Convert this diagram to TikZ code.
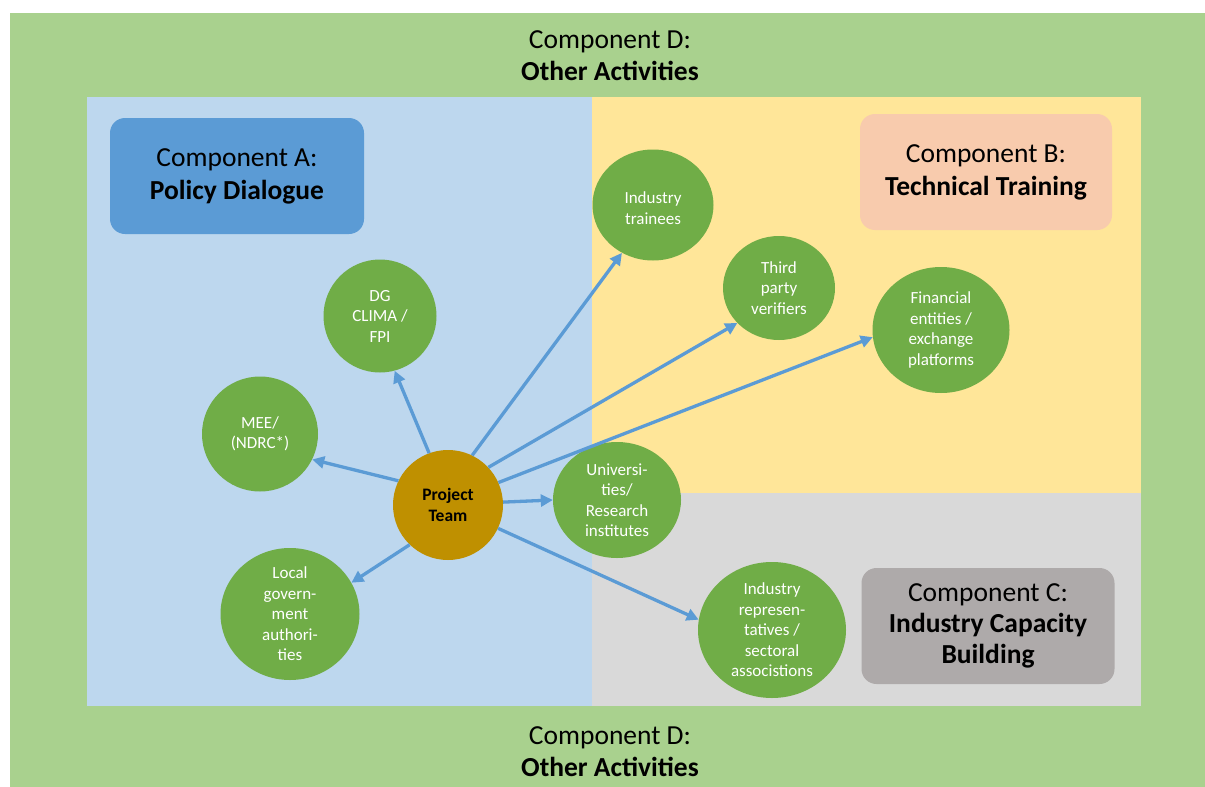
\documentclass[tikz,border=0pt]{standalone}
\usepackage{fontspec}
\setmainfont{Carlito}
\usetikzlibrary{arrows.meta,shapes.geometric}
\definecolor{outergreen}{HTML}{A9D18E}
\definecolor{bgblue}{HTML}{BDD7EE}
\definecolor{bgyellow}{HTML}{FFE699}
\definecolor{bggray}{HTML}{D9D9D9}
\definecolor{boxA}{HTML}{5B9BD5}
\definecolor{boxB}{HTML}{F8CBAD}
\definecolor{boxC}{HTML}{AEAAAA}
\definecolor{circgreen}{HTML}{70AD47}
\definecolor{teamgold}{HTML}{BF9000}
\definecolor{arrowblue}{HTML}{5B9BD5}
\tikzset{
  compbox/.style={rounded corners=15pt, inner sep=0pt, align=center, text=black,
    font=\fontsize{27.5}{33}\selectfont},
  dtext/.style={align=center, text=black, font=\fontsize{27.5}{32}\selectfont},
  gcirc/.style={ellipse, fill=circgreen, draw=none, inner sep=0pt},
  ctext/.style={align=center, text=white, font=\fontsize{17}{20.5}\selectfont},
  link/.style={draw=arrowblue, line width=3.3pt, -{Triangle[length=12pt,width=12pt]}}
}
\begin{document}
\begin{tikzpicture}[x=1pt,y=-1pt]
\useasboundingbox (0,0) rectangle (1205,787);
\fill[white] (0,0) rectangle (1205,787);
\fill[outergreen] (10,13) rectangle (1205,787);
\fill[bgblue] (87,97) rectangle (592,706);
\fill[bgyellow] (592,97) rectangle (1141,493);
\fill[bggray] (592,493) rectangle (1141,706);

% Component D labels
\node[dtext] (dtop) at (610,56) {Component D:\\\textbf{Other Activities}};
\node[dtext] (dbot) at (610,752) {Component D:\\\textbf{Other Activities}};

% Component boxes
\node[compbox, fill=boxA, minimum width=254pt, minimum height=116pt] (compA) at (237,176) {Component A:\\\textbf{Policy Dialogue}};
\node[compbox, fill=boxB, minimum width=252pt, minimum height=116pt] (compB) at (986,172) {Component B:\\\textbf{Technical Training}};
\node[compbox, fill=boxC, minimum width=253pt, minimum height=116pt, font=\fontsize{27.5}{31}\selectfont] (compC) at (988,626) {Component C:\\\textbf{Industry Capacity}\\\textbf{Building}};

% Circles
\node[gcirc, fill=teamgold, minimum width=110pt, minimum height=110pt,
  label={[ctext, text=black, font=\fontsize{17.5}{21.5}\selectfont\bfseries]center:Project\\Team}] (pt) at (448,505) {};
\node[gcirc, minimum width=116pt, minimum height=115pt,
  label={[ctext]center:MEE/\\(NDRC*)}] (mee) at (260,434) {};
\node[gcirc, minimum width=113pt, minimum height=113pt,
  label={[ctext]center:DG\\CLIMA /\\FPI}] (dg) at (380,316) {};
\node[gcirc, minimum width=139pt, minimum height=132pt,
  label={[ctext]center:Local\\govern-\\ment\\authori-\\ties}] (lg) at (290,614) {};
\node[gcirc, minimum width=121pt, minimum height=111pt,
  label={[ctext, yshift=-3pt]center:Industry\\trainees}] (it) at (653,205) {};
\node[gcirc, minimum width=112pt, minimum height=104pt,
  label={[ctext]center:Third\\party\\verifiers}] (tp) at (779,288) {};
\node[gcirc, minimum width=137pt, minimum height=126pt,
  label={[ctext]center:Financial\\entities /\\exchange\\platforms}] (fin) at (941,330) {};
\node[gcirc, minimum width=128pt, minimum height=116pt,
  label={[ctext]center:Universi-\\ties/\\Research\\institutes}] (uni) at (617,500) {};
\node[gcirc, minimum width=148pt, minimum height=136pt,
  label={[ctext]center:Industry\\represen-\\tatives /\\sectoral\\associstions}] (ir) at (772,630) {};

% Connectors
\draw[link] (pt.110) -- (dg.285);
\draw[link] (pt.154) -- (mee.334);
\draw[link] (pt.226) -- (lg.27);
\draw[link] (pt.64) -- (it.237);
\draw[link] (pt.43) -- (tp.220);
\draw[link] (pt.24) -- (fin.186);
\draw[link] (pt.3) -- (uni.180);
\draw[link] (pt.335) -- (ir.172);
\end{tikzpicture}
\end{document}
